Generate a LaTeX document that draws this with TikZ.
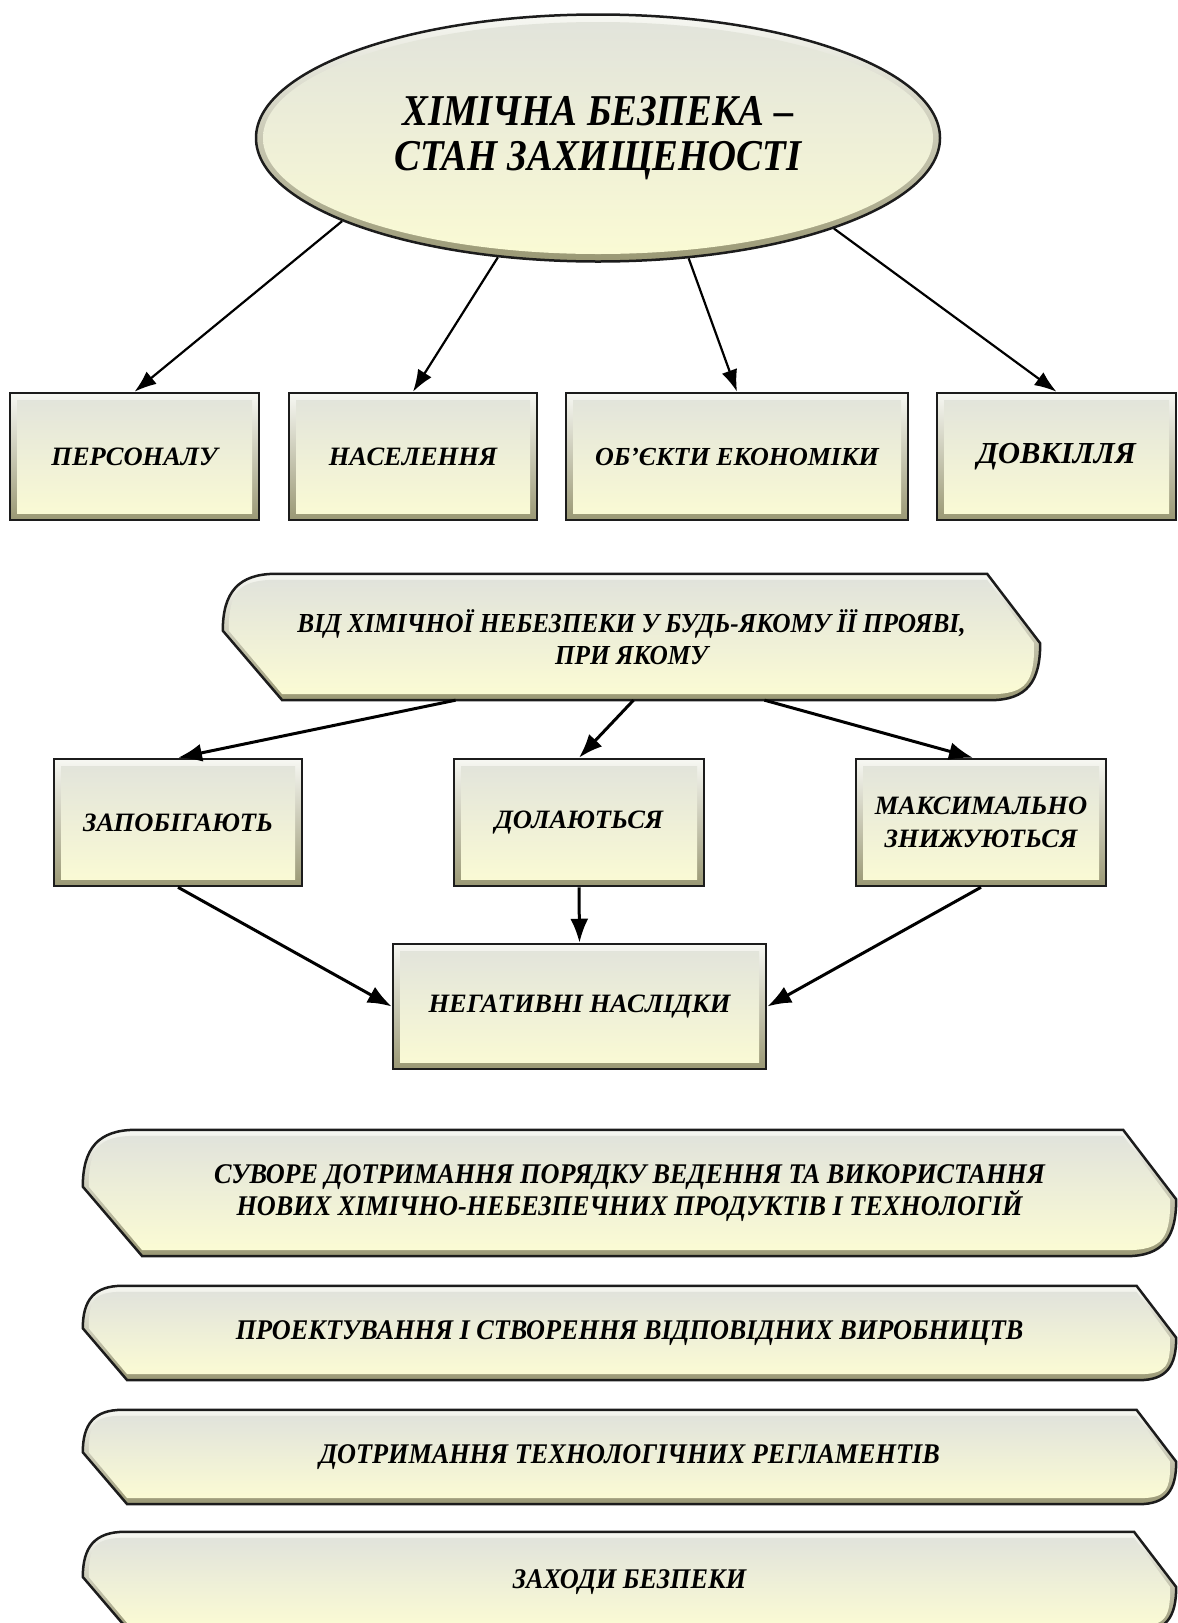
\documentclass[tikz,border=0pt]{standalone}
\usepackage{fontspec}
\setmainfont{Liberation Serif}
\newfontfamily\narrowserif[FakeStretch=0.92]{Liberation Serif}
\newfontfamily\ovalserif[FakeStretch=0.88]{Liberation Serif}
\usepackage{tikz}
\usetikzlibrary{positioning, calc, backgrounds, arrows.meta, shapes.geometric}
\definecolor{edgeink}{HTML}{1C1C1C}
\definecolor{panetop}{HTML}{E1E3DB}
\definecolor{panebot}{HTML}{FBFBD4}
\definecolor{bevlight}{HTML}{F7F8F3}
\definecolor{bevdark}{HTML}{9A9874}

% outline of a banner around node #1, pulled in by #2
\newcommand{\bannerpath}[3]{%
  \path[#3] let \p1=(#1.north west), \p2=(#1.south east), \n1={\y1-\y2} in
    ({\x1+0.42*\n1},{\y1-#2}) -- ({\x2-0.42*\n1},{\y1-#2})
    -- ({\x2-#2},{\y1-0.55*\n1})
    .. controls ({\x2-#2},{\y2+0.15*\n1}) and ({\x2-0.1*\n1},{\y2+#2}) .. ({\x2-0.4*\n1},{\y2+#2})
    -- ({\x1+0.47*\n1},{\y2+#2}) -- ({\x1+#2},{\y1-0.45*\n1})
    .. controls ({\x1+#2},{\y1-0.15*\n1}) and ({\x1+0.12*\n1},{\y1-#2}) .. ({\x1+0.42*\n1},{\y1-#2})
    -- cycle;}
\newcommand{\bannerbg}[1]{%
  \bannerpath{#1}{0pt}{draw=edgeink, line width=2.5pt, top color=bevlight, bottom color=bevdark}
  \bannerpath{#1}{6pt}{top color=panetop, bottom color=panebot}}

\begin{document}
\begin{tikzpicture}[
  x=1pt, y=-1pt,
  box/.style={draw=edgeink, line width=2.5pt, top color=bevlight, bottom color=bevdark, align=center, inner sep=4pt,
    minimum height=127pt, font=\bfseries\itshape\fontsize{26.5}{33}\selectfont,
    path picture={\shade[top color=panetop, bottom color=panebot]
      ([shift={(7pt,-7pt)}]path picture bounding box.north west) rectangle ([shift={(-7pt,7pt)}]path picture bounding box.south east);}},
  oval/.style={ellipse, draw=edgeink, line width=2.5pt, top color=bevlight, bottom color=bevdark, align=center, inner sep=2pt,
    minimum width=684pt, minimum height=247pt, font=\ovalserif\bfseries\itshape\fontsize{44}{45}\selectfont,
    path picture={\shade[top color=panetop, bottom color=panebot]
      (path picture bounding box.center) ellipse (335pt and 116pt);}},
  bannertext/.style={align=center, inner sep=0pt, font=\narrowserif\bfseries\itshape\fontsize{28.5}{30}\selectfont},
  arr/.style={-{Latex[length=22pt,width=16pt]}, line width=2.2pt, black},
  heavyarr/.style={-{Latex[length=24pt,width=18pt]}, line width=3pt, black}
]
  \useasboundingbox (0,0) rectangle (1178,1623);

  \node[oval] (title) at (598,138) {ХІМІЧНА БЕЗПЕКА –\\СТАН ЗАХИЩЕНОСТІ};

  \node[box, minimum width=249pt] (pers) at (134.5,456.5) {ПЕРСОНАЛУ};
  \node[box, minimum width=248pt] (nasel) at (413,456.5) {НАСЕЛЕННЯ};
  \node[box, minimum width=342pt, font=\bfseries\itshape\fontsize{26}{30}\selectfont] (obj) at (737,456.5) {ОБ\symbol{39}ЄКТИ ЕКОНОМІКИ};
  \node[box, minimum width=239pt, font=\bfseries\itshape\fontsize{30.5}{34}\selectfont] (dovk) at (1056.5,456.5) {\raisebox{-2pt}{ДОВКІЛЛЯ}};

  \node[bannertext, minimum width=817pt, minimum height=126pt, font=\narrowserif\bfseries\itshape\fontsize{27.5}{32}\selectfont] (ban1) at (631.5,637)
    {ВІД ХІМІЧНОЇ НЕБЕЗПЕКИ У БУДЬ-ЯКОМУ ЇЇ ПРОЯВІ,\\ПРИ ЯКОМУ};

  \node[box, minimum width=248pt] (zap) at (178,822.5) {ЗАПОБІГАЮТЬ};
  \node[box, minimum width=250pt] (dol) at (579,822.5) {ДОЛАЮТЬСЯ};
  \node[box, minimum width=250pt] (maxs) at (981,822.5) {МАКСИМАЛЬНО\\ЗНИЖУЮТЬСЯ};
  \node[box, minimum width=373pt, minimum height=125pt] (neg) at (579.5,1006.5) {НЕГАТИВНІ НАСЛІДКИ};

  \node[bannertext, minimum width=1093pt, minimum height=126pt] (ban2) at (629.5,1193)
    {СУВОРЕ ДОТРИМАННЯ ПОРЯДКУ ВЕДЕННЯ ТА ВИКОРИСТАННЯ\\НОВИХ ХІМІЧНО-НЕБЕЗПЕЧНИХ ПРОДУКТІВ І ТЕХНОЛОГІЙ};
  \node[bannertext, minimum width=1093pt, minimum height=94pt] (ban3) at (629.5,1333)
    {ПРОЕКТУВАННЯ І СТВОРЕННЯ ВІДПОВІДНИХ ВИРОБНИЦТВ};
  \node[bannertext, minimum width=1093pt, minimum height=94pt] (ban4) at (629.5,1457)
    {ДОТРИМАННЯ ТЕХНОЛОГІЧНИХ РЕГЛАМЕНТІВ};
  \node[bannertext, minimum width=1093pt, minimum height=100pt] (ban5) at (629.5,1582)
    {ЗАХОДИ БЕЗПЕКИ};

  \begin{pgfonlayer}{background}
    \bannerbg{ban1}
    \bannerbg{ban2}
    \bannerbg{ban3}
    \bannerbg{ban4}
    \bannerbg{ban5}
  \end{pgfonlayer}

  \draw[arr] (title.198) -- (pers.north);
  \draw[arr] (title.230) -- (nasel.north);
  \draw[arr] (title.307) -- (obj.north);
  \draw[arr] (title.339) -- (dovk.north);

  \draw[heavyarr] ([xshift=-176pt]ban1.south) -- (zap.north);
  \draw[heavyarr] ([xshift=2pt]ban1.south) -- (dol.north);
  \draw[heavyarr] ([xshift=133pt]ban1.south) -- ([xshift=-8pt]maxs.north);

  \draw[heavyarr] (zap.south) -- (neg.west);
  \draw[heavyarr] (dol.south) -- (neg.north);
  \draw[heavyarr] (maxs.south) -- (neg.east);
\end{tikzpicture}
\end{document}
